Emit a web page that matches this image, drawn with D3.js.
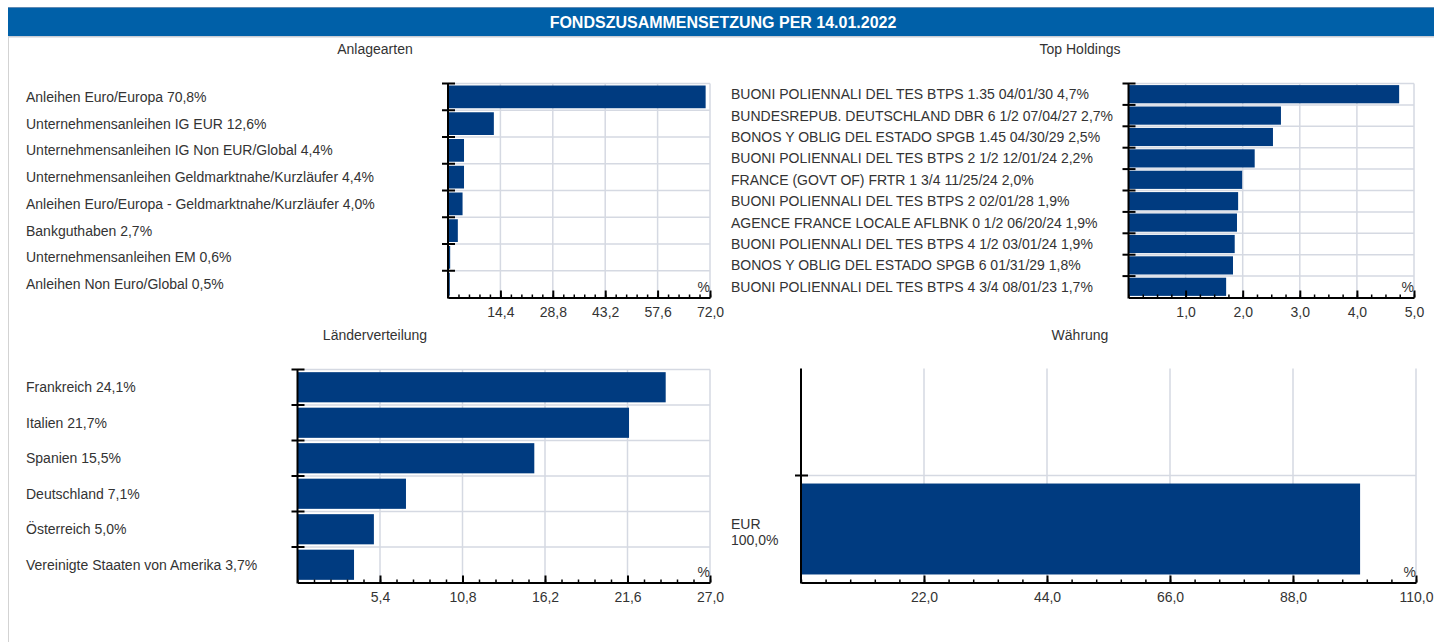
<!DOCTYPE html>
<html>
<head>
<meta charset="utf-8">
<script src="https://d3js.org/d3.v7.min.js"></script>
<style>
  body { margin: 0; background: #fff; }
  svg { display: block; font-family: "Liberation Sans", Arial, sans-serif; }
  .axis text { font-size: 14px; fill: #333; font-family: "Liberation Sans", Arial, sans-serif; }
</style>
</head>
<body>
<script>
// --- data ---
var anlageNames = ["Anleihen Euro/Europa", "Unternehmensanleihen IG EUR", "Unternehmensanleihen IG Non EUR/Global",
  "Unternehmensanleihen Geldmarktnahe/Kurzläufer", "Anleihen Euro/Europa - Geldmarktnahe/Kurzläufer",
  "Bankguthaben", "Unternehmensanleihen EM", "Anleihen Non Euro/Global"];
var anlageValues = [70.8, 12.6, 4.4, 4.4, 4.0, 2.7, 0.6, 0.5];
var anlageTicks = [14.4, 28.8, 43.2, 57.6, 72.0];

var holdingNames = ["BUONI POLIENNALI DEL TES BTPS 1.35 04/01/30", "BUNDESREPUB. DEUTSCHLAND DBR 6 1/2 07/04/27",
  "BONOS Y OBLIG DEL ESTADO SPGB 1.45 04/30/29", "BUONI POLIENNALI DEL TES BTPS 2 1/2 12/01/24",
  "FRANCE (GOVT OF) FRTR 1 3/4 11/25/24", "BUONI POLIENNALI DEL TES BTPS 2 02/01/28",
  "AGENCE FRANCE LOCALE AFLBNK 0 1/2 06/20/24", "BUONI POLIENNALI DEL TES BTPS 4 1/2 03/01/24",
  "BONOS Y OBLIG DEL ESTADO SPGB 6 01/31/29", "BUONI POLIENNALI DEL TES BTPS 4 3/4 08/01/23"];
var holdingValues = [4.74, 2.67, 2.53, 2.21, 1.99, 1.92, 1.90, 1.86, 1.83, 1.71];
var holdingTicks = [1.0, 2.0, 3.0, 4.0, 5.0];

var landNames = ["Frankreich", "Italien", "Spanien", "Deutschland", "Österreich", "Vereinigte Staaten von Amerika"];
var landValues = [24.1, 21.7, 15.5, 7.1, 5.0, 3.7];
var landTicks = [5.4, 10.8, 16.2, 21.6, 27.0];

var currencyNames = ["EUR"];
var currencyValues = [100.0];
var currencyTicks = [22.0, 44.0, 66.0, 88.0, 110.0];

var barColor = "#003b80";
var gridColor = "#d5d9e2";

var width = 1434, height = 642;
var svg = d3.select("body").append("svg").attr("width", width).attr("height", height);

var comma = function(v) { return d3.format(".1f")(v).replace(".", ","); };

// header
svg.append("rect").attr("x", 8).attr("y", 7).attr("width", width - 8).attr("height", 1.5).attr("fill", "#5f8ab3");
svg.append("rect").attr("x", 8).attr("y", 8).attr("width", width - 8).attr("height", 28).attr("fill", "#0060a8");
svg.append("rect").attr("x", 8).attr("y", 36).attr("width", width - 8).attr("height", 1.5).attr("fill", "#c9cdd5");
svg.append("line").attr("x1", 8.5).attr("x2", 8.5).attr("y1", 36).attr("y2", height)
  .attr("stroke", "#d3d3d3").attr("stroke-width", 1);
svg.append("text").attr("x", 723).attr("y", 28).attr("text-anchor", "middle")
  .attr("fill", "#fff").attr("font-weight", "bold").attr("font-size", 16)
  .text("FONDSZUSAMMENSETZUNG PER 14.01.2022");

function panel(o) {
  var g = svg.append("g");

  g.append("text").attr("x", o.titleX).attr("y", o.titleY).attr("text-anchor", "middle")
    .attr("font-size", 14).attr("fill", "#333").text(o.title);

  var x = d3.scaleLinear().domain([0, o.max]).range([o.x0, o.x1]);
  var rowDomain = (o.blankRows || []).concat(o.names);
  var rows = d3.scaleBand().domain(rowDomain).range([o.top, o.bottom]);
  var bh = rows.bandwidth();

  // grid
  g.selectAll(".vg").data(o.ticks).enter().append("line")
    .attr("x1", function(d) { return x(d); }).attr("x2", function(d) { return x(d); })
    .attr("y1", o.top).attr("y2", o.bottom)
    .attr("stroke", gridColor).attr("stroke-width", 1.5);
  g.selectAll(".hg").data(o.names).enter().append("line")
    .attr("x1", o.x0).attr("x2", o.x1)
    .attr("y1", function(d) { return rows(d); }).attr("y2", function(d) { return rows(d); })
    .attr("stroke", gridColor).attr("stroke-width", 1.5);

  // bars
  g.selectAll(".bar").data(o.values).enter().append("rect")
    .attr("x", x(0))
    .attr("y", function(d, i) { return rows(o.names[i]) + bh * 0.075; })
    .attr("width", function(d) { return x(d) - x(0); })
    .attr("height", bh * 0.85)
    .attr("fill", barColor);

  // category labels
  g.selectAll(".lab").data(o.values).enter().append("text")
    .attr("x", o.labelX)
    .attr("y", function(d, i) { return rows(o.names[i]) + bh / 2; })
    .attr("font-size", 14).attr("fill", "#333")
    .each(function(d, i) {
      var t = d3.select(this);
      if (o.twoLine) {
        t.append("tspan").attr("x", o.labelX).attr("dy", "0em").text(o.names[i]);
        t.append("tspan").attr("x", o.labelX).attr("dy", "1.15em").text(comma(d) + "%");
      } else {
        t.attr("dy", "0.35em").text(o.names[i] + " " + comma(d) + "%");
      }
    });

  // minor ticks
  var minor = d3.range(0, o.max + 1e-9, o.max / (o.ticks.length * o.sub));
  g.append("g").attr("class", "axis").attr("transform", "translate(0," + o.bottom + ")")
    .call(d3.axisBottom(x).tickValues(minor).tickSize(-3).tickSizeOuter(0).tickFormat(""))
    .call(function(s) { s.selectAll("line").attr("stroke", "#000").attr("stroke-width", 1.5); s.select(".domain").remove(); });

  // major axis
  g.append("g").attr("class", "axis").attr("transform", "translate(0," + o.bottom + ")")
    .call(d3.axisBottom(x).tickValues(o.ticks).tickSizeInner(-7).tickSizeOuter(0).tickPadding(10).tickFormat(comma))
    .call(function(s) {
      s.select(".domain").attr("stroke", "#000").attr("stroke-width", 2);
      s.selectAll("line").attr("stroke", "#000").attr("stroke-width", 2);
    });

  // y axis line and ticks
  g.append("line").attr("x1", o.x0).attr("x2", o.x0).attr("y1", o.top).attr("y2", o.bottom + 1)
    .attr("stroke", "#000").attr("stroke-width", 2);
  g.selectAll(".yt").data(o.names).enter().append("line")
    .attr("x1", o.x0 - 6).attr("x2", o.x0 + 7)
    .attr("y1", function(d) { return rows(d); }).attr("y2", function(d) { return rows(d); })
    .attr("stroke", "#000").attr("stroke-width", 2);

  g.append("text").attr("x", o.x1).attr("y", o.bottom - 6).attr("text-anchor", "end")
    .attr("font-size", 14).attr("fill", "#333").text("%");
}

panel({ title: "Anlagearten", titleX: 375, titleY: 54, names: anlageNames, values: anlageValues,
  ticks: anlageTicks, max: 72, sub: 5, x0: 448, x1: 710, top: 83.5, bottom: 297.5, labelX: 26 });
panel({ title: "Top Holdings", titleX: 1080, titleY: 54, names: holdingNames, values: holdingValues,
  ticks: holdingTicks, max: 5, sub: 4, x0: 1128.5, x1: 1414, top: 83.5, bottom: 297.5, labelX: 731 });
panel({ title: "Länderverteilung", titleX: 375, titleY: 340, names: landNames, values: landValues,
  ticks: landTicks, max: 27, sub: 5, x0: 297.5, x1: 710, top: 369.5, bottom: 582.5, labelX: 26 });
panel({ title: "Währung", titleX: 1080, titleY: 340, names: currencyNames, values: currencyValues, blankRows: [""],
  ticks: currencyTicks, max: 110, sub: 5, x0: 801, x1: 1416, top: 368.5, bottom: 582.5, labelX: 731, twoLine: true });
</script>
</body>
</html>
